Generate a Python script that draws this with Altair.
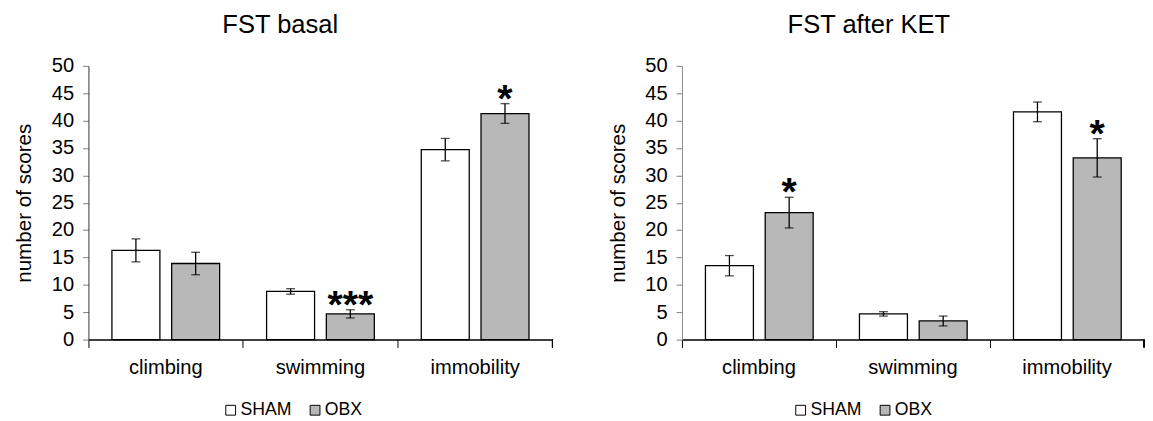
import altair as alt
import pandas as pd

categories = ["climbing", "swimming", "immobility"]
groups = ["SHAM", "OBX"]

basal_sham = [16.3, 8.8, 34.7]
basal_sham_err = [2.1, 0.5, 2.05]
basal_obx = [13.9, 4.7, 41.3]
basal_obx_err = [2.05, 0.75, 1.8]
basal_obx_sig = ["", "***", "*"]

ket_sham = [13.5, 4.7, 41.6]
ket_sham_err = [1.85, 0.4, 1.8]
ket_obx = [23.2, 3.4, 33.2]
ket_obx_err = [2.8, 0.9, 3.5]
ket_obx_sig = ["*", "", "*"]

y_ticks = list(range(0, 51, 5))

FONT = "Liberation Sans"
PLOT_H = 279


def make_df(sham, sham_err, obx, obx_err, obx_sig):
    rows = []
    for i, c in enumerate(categories):
        rows.append({"cat": c, "group": "SHAM", "value": sham[i], "err": sham_err[i], "sig": ""})
        rows.append({"cat": c, "group": "OBX", "value": obx[i], "err": obx_err[i], "sig": obx_sig[i]})
    df = pd.DataFrame(rows)
    df["lo"] = df["value"] - df["err"]
    df["hi"] = df["value"] + df["err"]
    return df


def panel(df, title, width, ydom_color, legend_x, title_dx):
    xaxis = alt.Axis(labelAngle=0, bandPosition=0, tickSize=8, tickColor="#000000",
                     domainColor="#000000", labelFontSize=20.5, labelFont=FONT,
                     labelColor="#000000", labelPadding=11, domainWidth=1.5)
    xscale = alt.Scale(paddingInner=0, paddingOuter=0)
    yaxis = alt.Axis(values=y_ticks, grid=False, tickSize=6, tickColor="#7f7f7f",
                     domainColor=ydom_color, labelFontSize=20.5, labelFont=FONT,
                     labelColor="#000000", labelPadding=9, labelOverlap=False,
                     titleFontSize=21, titleFont=FONT, titleFontWeight="normal",
                     titleColor="#000000", titlePadding=17)
    yscale = alt.Scale(domain=[0, 50], nice=False, zero=True)

    def X():
        return alt.X("cat:N", sort=categories, title=None, scale=xscale, axis=xaxis)

    def XO():
        return alt.XOffset("group:N", sort=groups,
                           scale=alt.Scale(paddingInner=0.197, paddingOuter=0.393))

    def Y(field):
        return alt.Y(field, title="number of scores", scale=yscale, axis=yaxis)

    fill = alt.Fill("group:N", sort=groups,
                    scale=alt.Scale(domain=groups, range=["#ffffff", "#b8b8b8"]),
                    legend=alt.Legend(title=None, orient="none", legendX=legend_x,
                                      legendY=PLOT_H + 63, direction="horizontal",
                                      symbolType="square", symbolSize=100,
                                      symbolStrokeColor="#000000", symbolStrokeWidth=1,
                                      labelFontSize=18, labelFont=FONT, labelColor="#000000",
                                      labelOffset=1, columnPadding=14))
    bars = alt.Chart(df).mark_bar(stroke="#000000", strokeWidth=1.3).encode(
        x=X(), xOffset=XO(), y=Y("value:Q"), fill=fill)
    err = alt.Chart(df).mark_rule(color="#000000", strokeWidth=1.3).encode(
        x=X(), xOffset=XO(), y=Y("lo:Q"), y2="hi:Q")
    cap_hi = alt.Chart(df).mark_tick(orient="horizontal", size=9, thickness=1.3,
                                     color="#000000").encode(
        x=X(), xOffset=XO(), y=Y("hi:Q"))
    cap_lo = alt.Chart(df).mark_tick(orient="horizontal", size=9, thickness=1.3,
                                     color="#000000").encode(
        x=X(), xOffset=XO(), y=Y("lo:Q"))
    stars = alt.Chart(df).transform_filter("datum.sig != ''").mark_text(
        font=FONT, fontSize=40, fontWeight="bold", baseline="alphabetic", dy=8,
        color="#000000").encode(
        x=X(), xOffset=XO(), y=Y("hi:Q"), text="sig:N")
    end_tick = alt.Chart(df).mark_rule(color="#000000", strokeWidth=1).encode(
        x=alt.value(width), y=alt.value(PLOT_H), y2=alt.value(PLOT_H + 8))
    return alt.layer(bars, err, cap_hi, cap_lo, stars, end_tick).properties(
        width=width, height=PLOT_H,
        title=alt.TitleParams(title, fontSize=26, font=FONT, fontWeight="normal",
                              color="#000000", anchor="middle", dx=title_dx, offset=19))


left = panel(make_df(basal_sham, basal_sham_err, basal_obx, basal_obx_err, basal_obx_sig),
             "FST basal", 473, "#333333", 136, -41)
right = panel(make_df(ket_sham, ket_sham_err, ket_obx, ket_obx_err, ket_obx_sig),
              "FST after KET", 471, "#8c8c8c", 112, -45)

chart = alt.hconcat(left, right, spacing=55).resolve_scale(
    fill="independent", x="independent", y="independent").resolve_legend(
    fill="independent").properties(
    padding={"left": 6, "top": 0, "right": 0, "bottom": 0}).configure_view(stroke=None)

chart.save("out.html", embed_options={"renderer": "svg", "actions": False})
